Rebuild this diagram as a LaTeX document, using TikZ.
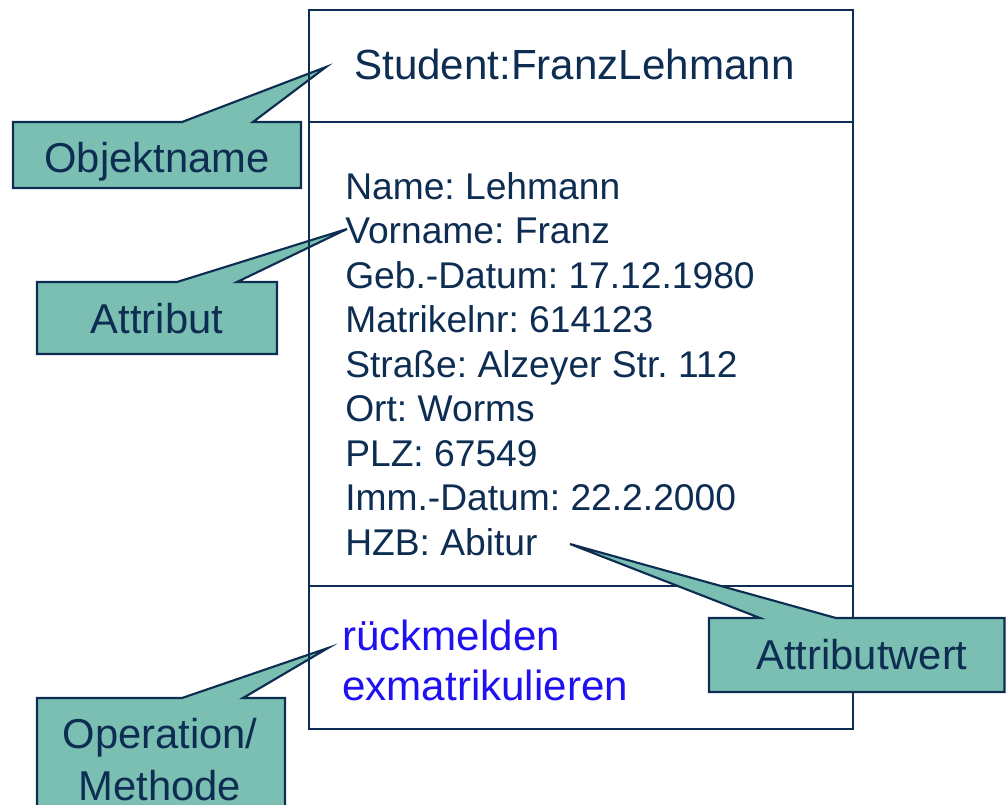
\documentclass[tikz,border=0pt]{standalone}
\usepackage{fontspec}
\setmainfont{Liberation Sans}
\frenchspacing
\definecolor{navy}{HTML}{0D2D52}
\definecolor{calloutfill}{HTML}{7ABFB1}
\definecolor{opblue}{HTML}{1E10F0}
\begin{document}
\begin{tikzpicture}[x=0.75pt,y=-0.75pt,line join=miter,
  callout/.style={draw=navy,fill=calloutfill,line width=1.6pt},
  umlbox/.style={draw=navy,line width=1.5pt},
  attr/.style={anchor=base west,inner sep=0pt,text=navy,font=\fontsize{27.9}{33}\selectfont},
  oper/.style={anchor=base west,inner sep=0pt,text=opblue,font=\fontsize{31.6}{37}\selectfont},
  lbl/.style={anchor=base,inner sep=0pt,text=navy,font=\fontsize{31.3}{39}\selectfont}]
\useasboundingbox (0,0) rectangle (1006,804);
\clip (0,0) rectangle (1006,804);
% callouts below the box
\coordinate (objtip) at (326,67);
\draw[callout] (13,122) -- (182,122) -- (objtip) -- (253,122) -- (301,122) -- (301,188) -- (13,188) -- cycle;
\node[lbl] (objlbl) at (157,172) {Objektname};
\coordinate (atttip) at (347,229);
\draw[callout] (37,282) -- (177,282) -- (atttip) -- (237,282) -- (277,282) -- (277,354) -- (37,354) -- cycle;
\node[lbl] (attlbl) at (157,333) {Attribut};
\coordinate (optip) at (328,648);
\draw[callout] (37,698) -- (182,698) -- (optip) -- (243,698) -- (285,698) -- (285,840) -- (37,840) -- cycle;
\node[lbl] (oplbl1) at (160,748) {Operation/};
\node[lbl] (oplbl2) at (160,800) {Methode};
% object box
\draw[umlbox] (309,10) rectangle (853,729);
\draw[umlbox] (309,122) -- (853,122);
\draw[umlbox] (309,586) -- (853,586);
\node[anchor=base west,inner sep=0pt,text=navy,font=\fontsize{31.6}{37}\selectfont] (title) at (354,79) {Student:FranzLehmann};
\node[attr] (a1) at (345,199) {Name: Lehmann};
\node[attr] (a2) at (345,243.5) {Vorname: Franz};
\node[attr] (a3) at (345,288) {Geb.-Datum: 17.12.1980};
\node[attr] (a4) at (345,332.5) {Matrikelnr: 614123};
\node[attr] (a5) at (345,377) {Straße: Alzeyer Str. 112};
\node[attr] (a6) at (345,421.5) {Ort: Worms};
\node[attr] (a7) at (345,466) {PLZ: 67549};
\node[attr] (a8) at (345,510.5) {Imm.-Datum: 22.2.2000};
\node[attr] (a9) at (345,555) {HZB: Abitur};
\node[oper] (m1) at (342,650) {rückmelden};
\node[oper] (m2) at (342,700) {exmatrikulieren};
% callout above the box
\coordinate (werttip) at (570,544);
\draw[callout] (709,618) -- (760,618) -- (werttip) -- (836,618) -- (1004.5,618) -- (1004.5,692) -- (709,692) -- cycle;
\node[lbl] (wertlbl) at (862,669) {Attributwert};
\end{tikzpicture}
\end{document}
